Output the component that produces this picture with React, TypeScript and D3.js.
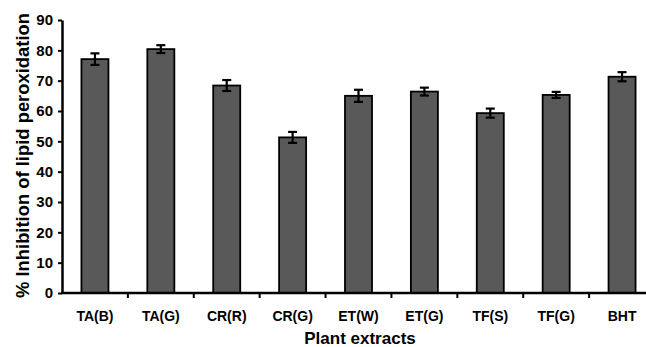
import React, { useRef, useEffect } from "react";
import * as d3 from "d3";

const categories = ["TA(B)", "TA(G)", "CR(R)", "CR(G)", "ET(W)", "ET(G)", "TF(S)", "TF(G)", "BHT"];
const values = [77.1, 80.4, 68.4, 51.3, 65.0, 66.4, 59.3, 65.3, 71.3];
const errors = [1.9, 1.3, 1.8, 1.8, 2.0, 1.3, 1.5, 1.0, 1.5];
const yTicks = [0, 10, 20, 30, 40, 50, 60, 70, 80, 90];

export default function App() {
  const svgRef = useRef<SVGSVGElement>(null);

  useEffect(() => {
    if (!svgRef.current) return;
    const svg = d3.select(svgRef.current);
    svg.selectAll("*").remove();

    const font = "'Liberation Sans', Arial, sans-serif";

    const x = d3.scaleBand<string>().domain(categories).range([62, 655]).paddingInner(0.59).paddingOuter(0.295);
    const y = d3.scaleLinear().domain([0, 90]).range([293, 20]);

    const data = categories.map((c, i) => ({ c, v: values[i], e: errors[i] }));

    // bars
    svg.append("g")
      .selectAll("rect")
      .data(data)
      .join("rect")
      .attr("x", d => x(d.c)!)
      .attr("y", d => y(d.v))
      .attr("width", x.bandwidth())
      .attr("height", d => y(0) - y(d.v))
      .attr("fill", "#595959")
      .attr("stroke", "#000")
      .attr("stroke-width", 1.8);

    // error bars
    const eb = svg.append("g").attr("stroke", "#000").attr("stroke-width", 2.2);
    data.forEach(d => {
      const cx = x(d.c)! + x.bandwidth() / 2;
      eb.append("line").attr("x1", cx).attr("x2", cx).attr("y1", y(d.v + d.e)).attr("y2", y(d.v - d.e));
      [d.v + d.e, d.v - d.e].forEach(v => {
        eb.append("line").attr("x1", cx - 4.5).attr("x2", cx + 4.5).attr("y1", y(v)).attr("y2", y(v));
      });
    });

    // y axis
    const yAxis = svg.append("g").attr("transform", "translate(62,0)")
      .call(d3.axisLeft(y).tickValues(yTicks).tickSize(4).tickSizeOuter(0).tickPadding(5));
    yAxis.select(".domain").attr("stroke", "#000").attr("stroke-width", 2.5);
    yAxis.selectAll(".tick line").attr("stroke", "#000").attr("stroke-width", 2);
    yAxis.selectAll("text")
      .style("font-family", font).style("font-weight", "bold").style("font-size", "15px").attr("fill", "#000");

    // x axis
    const bandStep = x.step();
    const xAxisG = svg.append("g").attr("transform", `translate(0,${y(0)})`);
    xAxisG.append("line").attr("x1", 61).attr("x2", 655).attr("y1", 0).attr("y2", 0)
      .attr("stroke", "#000").attr("stroke-width", 2.5);
    categories.forEach((c, i) => {
      const tx = 62 + (i + 1) * bandStep;
      xAxisG.append("line").attr("x1", tx).attr("x2", tx).attr("y1", 0).attr("y2", 5)
        .attr("stroke", "#000").attr("stroke-width", 2);
      xAxisG.append("text")
        .attr("x", x(c)! + x.bandwidth() / 2)
        .attr("y", 28)
        .attr("text-anchor", "middle")
        .style("font-family", font).style("font-weight", "bold").style("font-size", "14px")
        .text(c);
    });

    // axis titles
    svg.append("text")
      .attr("x", 360).attr("y", 344)
      .attr("text-anchor", "middle")
      .style("font-family", font).style("font-weight", "bold").style("font-size", "17px")
      .text("Plant extracts");

    svg.append("text")
      .attr("transform", `translate(29,155.5) rotate(-90)`)
      .attr("text-anchor", "middle")
      .style("font-family", font).style("font-weight", "bold").style("font-size", "18.4px")
      .text("% Inhibition of lipid peroxidation");
  }, []);

  return (
    <svg ref={svgRef} width={646} height={347}
      style={{ position: "absolute", left: 0, top: 0, background: "#fff" }} />
  );
}
